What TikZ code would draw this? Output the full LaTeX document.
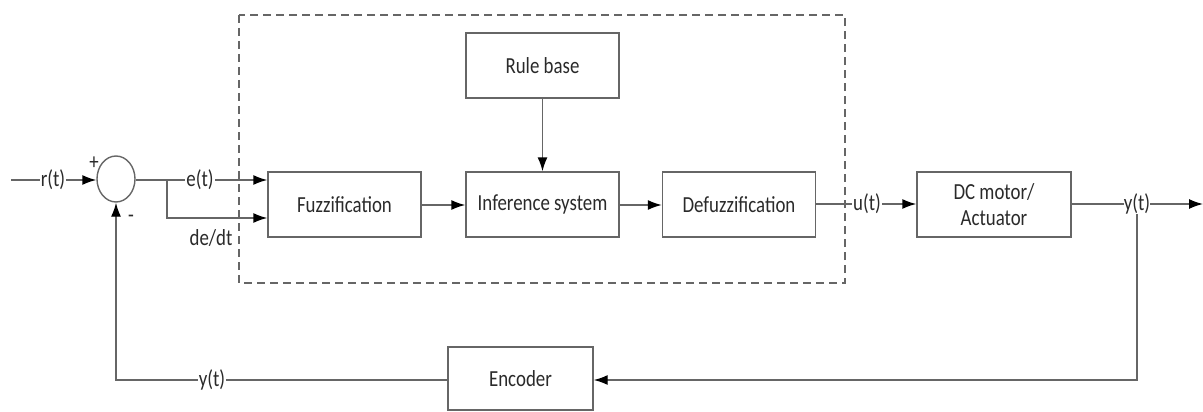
\documentclass[tikz,border=0pt]{standalone}
\usepackage{fontspec}
\setmainfont[FakeStretch=0.82]{Carlito}
\usetikzlibrary{arrows.meta,shapes.geometric}
\definecolor{ln}{HTML}{666666}
\definecolor{tx}{HTML}{2A2A2A}
\begin{document}
\begin{tikzpicture}[x=1pt,y=-1pt,
  every node/.style={font=\fontsize{23}{26}\selectfont,text=tx},
  blk/.style={draw=ln,line width=1.4pt,minimum width=153pt,minimum height=65pt,inner sep=0pt,align=center},
  sig/.style={draw=ln,line width=1.4pt},
  arr/.style={sig,-{Latex[length=14pt,width=10pt,color=black]}},
  lbl/.style={fill=white,inner sep=1pt},
  frame/.style={draw=ln,line width=1.4pt,dash pattern=on 8pt off 5pt}]
\useasboundingbox (0,0) rectangle (1203,412);
% dashed controller frame
\draw[frame] (239,15) rectangle (845,283);
% blocks
\node[blk] (rule) at (542.5,65.5) {Rule base};
\node[blk] (fuzz) at (344.5,204.5) {Fuzzification};
\node[blk] (inf) at (542.5,204.5) {Inference system};
\node[blk] (defuzz) at (739,204.5) {Defuzzification};
\node[blk,minimum width=154pt] (motor) at (994,204.5) {DC motor/\\Actuator};
\node[blk,minimum width=145pt,minimum height=63pt] (enc) at (520.5,378.5) {Encoder};
% summing junction
\node[ellipse,draw=ln,line width=1.4pt,minimum width=38pt,minimum height=46pt,inner sep=0pt] (sum) at (116,179) {};
\node[inner sep=0pt] (plus) at (94,163) {+};
\node[inner sep=0pt] (minus) at (131,219) {-};
% coordinates
\coordinate (rin) at (11,180);
\coordinate (br) at (167,180);
\coordinate (yout) at (1203,204);
\coordinate (ybr) at (1137,204);
\coordinate (ylow) at (1137,380);
\coordinate (fbl) at (116,380);
% connectors
\draw[arr] (rin) -- (sum.west |- rin);
\draw[sig] (sum.east |- br) -- (br);
\draw[arr] (br) -- (fuzz.west |- br);
\draw[arr] (br) |- (fuzz.west |- 0,218);
\draw[arr] (fuzz.east |- 0,205) -- (inf.west |- 0,205);
\draw[arr] (inf.east |- 0,205) -- (defuzz.west |- 0,205);
\draw[arr] (rule.south) -- (inf.north);
\draw[arr] (defuzz.east |- 0,204) -- (motor.west |- 0,204);
\draw[arr] (motor.east |- 0,204) -- (yout);
\draw[arr] (ybr) -- (ylow) -- (enc.east |- ylow);
\draw[arr] (enc.west |- fbl) -- (fbl) -- (sum.south);
% signal labels
\node[lbl] (rt) at (53,180) {r(t)};
\node[lbl] (et) at (200,180) {e(t)};
\node[inner sep=1pt] (dedt) at (211,238) {de/dt};
\node[lbl] (ut) at (867,204) {u(t)};
\node[lbl,inner sep=0pt] (yt1) at (1137,204) {y(t)};
\node[lbl] (yt2) at (212,380) {y(t)};
\end{tikzpicture}
\end{document}
